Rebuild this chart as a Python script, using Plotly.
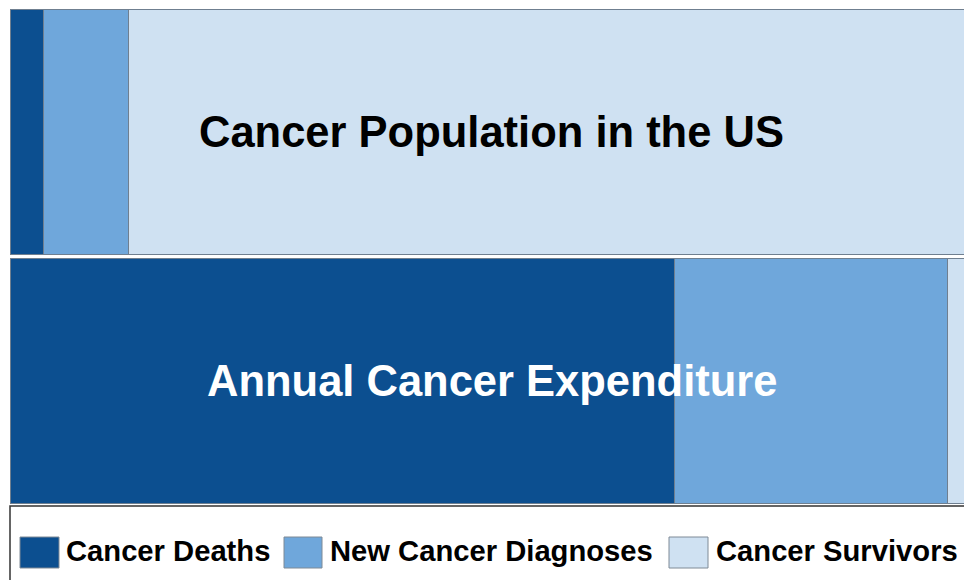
import plotly.graph_objects as go

categories = ["Cancer Population in the US", "Annual Cancer Expenditure"]
series_names = ["Cancer Deaths", "New Cancer Diagnoses", "Cancer Survivors"]
series_values = {
    "Cancer Deaths": [3.5, 69.7],
    "New Cancer Diagnoses": [8.9, 28.6],
    "Cancer Survivors": [87.6, 1.7],
}
colors = ["#0c4f90", "#6fa7db", "#cfe1f2"]
label_colors = ["black", "white"]

W, H = 964, 580
ML, MR, MT, MB = 10, 0, 8, H - 505
PW, PH = W - ML - MR, H - MT - MB


def px_x(p):
    return (p - ML) / PW


def px_y(p):
    return (H - MB - p) / PH


fig = go.Figure()
for name, col in zip(series_names, colors):
    fig.add_trace(go.Bar(
        y=categories, x=series_values[name], name=name, orientation="h",
        marker=dict(color=col, line=dict(color="#6f7f90", width=1)),
        showlegend=False, hoverinfo="x+name",
    ))

annotations = []
for cat, tc in zip(categories, label_colors):
    annotations.append(dict(
        x=50.5, y=cat, xref="x", yref="y", text="<b>%s</b>" % cat,
        showarrow=False, font=dict(family="Liberation Sans, Arial", size=43.5, color=tc),
        xanchor="center", yanchor="middle",
    ))

shapes = [dict(type="rect", xref="paper", yref="paper",
               x0=px_x(10), x1=px_x(975), y0=px_y(506), y1=px_y(595),
               line=dict(color="#333333", width=1.5), fillcolor="white", layer="below")]

swatch_x = [(20, 59), (284, 322), (669, 708)]
label_x = [64, 328, 714]
for name, col, (sx0, sx1), lx in zip(series_names, colors, swatch_x, label_x):
    shapes.append(dict(type="rect", xref="paper", yref="paper",
                       x0=px_x(sx0), x1=px_x(sx1), y0=px_y(568), y1=px_y(537),
                       line=dict(color="#7f8a96", width=1), fillcolor=col))
    annotations.append(dict(
        x=px_x(lx), y=px_y(551), xref="paper", yref="paper", text="<b>%s</b>" % name,
        showarrow=False, xanchor="left", yanchor="middle",
        font=dict(family="Liberation Sans, Arial", size=29.2, color="black"),
    ))

fig.update_layout(
    width=W, height=H, barmode="stack", bargap=0.014,
    margin=dict(l=ML, r=MR, t=MT, b=MB),
    paper_bgcolor="white", plot_bgcolor="white",
    xaxis=dict(range=[0, 100], visible=False, fixedrange=True),
    yaxis=dict(categoryorder="array", categoryarray=categories[::-1],
               visible=False, range=[-0.5, 1.5], fixedrange=True),
    shapes=shapes, annotations=annotations, showlegend=False,
)

fig.write_html(
    "out.html",
    config={"displayModeBar": False},
    post_script="document.body.style.margin='0';document.body.style.overflow='hidden';",
)
